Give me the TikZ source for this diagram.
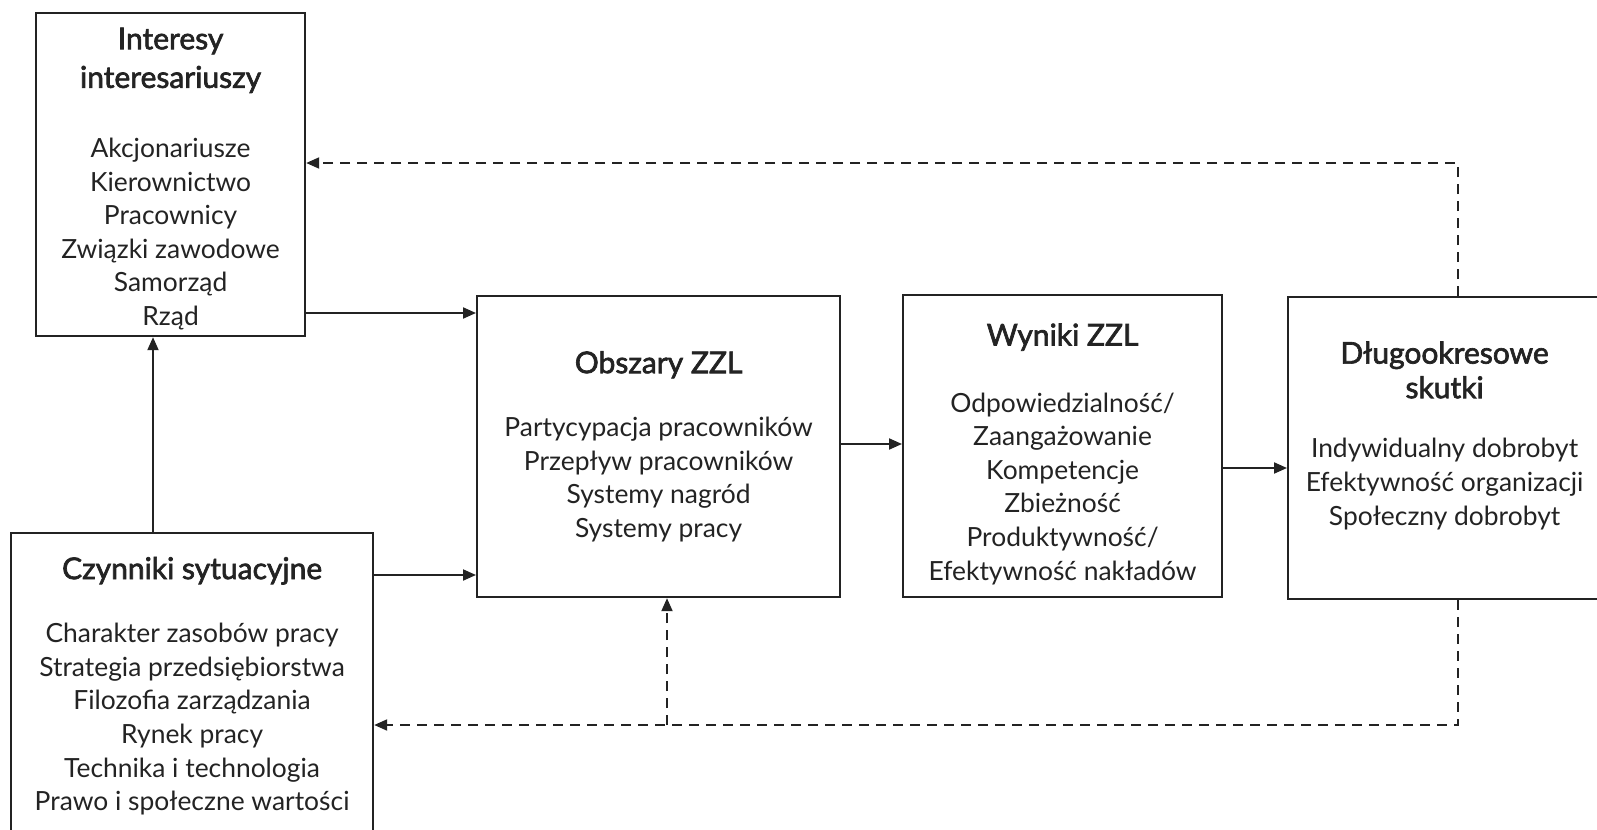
\documentclass[tikz,border=0pt]{standalone}
\usepackage{fontspec}
\setmainfont{Lato}
\newfontfamily\tytfont{Lato}[FakeBold=2.2]
\usepackage{tikz}
\usetikzlibrary{positioning,calc}
\usetikzlibrary{arrows.meta}
\definecolor{Ink}{RGB}{35,35,35}
\tikzset{
  blok/.style={draw=Ink,line width=1.1pt,align=center,inner sep=0pt,anchor=north west,
    font=\fontsize{13.2}{16.8}\selectfont,text=Ink},
  arr/.style={draw=Ink,line width=1pt,-{Triangle[length=6.5pt,width=5.5pt]}},
  darr/.style={arr,dash pattern=on 5pt off 3.5pt},
}
% title line; optional argument raises the first line to push the text down
\newcommand{\tyt}[2][0pt]{{\tytfont\fontsize{15}{18}\selectfont\rule{0pt}{#1}#2}}
\begin{document}
\begin{tikzpicture}[x=0.5pt,y=-0.5pt]
\useasboundingbox (0,0) rectangle (1597,830);
\clip (0,0) rectangle (1597,830);
\fill[white] (0,0) rectangle (1597,830);
% boxes
\node[blok,minimum width=134.5pt,minimum height=161.5pt] (inter) at (35,12)
  {\tyt[15pt]{Interesy}\\[2.5pt]\tyt{interesariuszy}\\[18pt]Akcjonariusze\\Kierownictwo\\Pracownicy\\Związki zawodowe\\Samorząd\\Rząd};
\node[blok,minimum width=181.5pt,minimum height=150.5pt] (obsz) at (476,295)
  {\tyt{Obszary ZZL}\\[15pt]Partycypacja pracowników\\Przepływ pracowników\\Systemy nagród\\Systemy pracy};
\node[blok,minimum width=159.5pt,minimum height=151pt] (wyn) at (902,294)
  {\tyt[19pt]{Wyniki ZZL}\\[16.5pt]Odpowiedzialność/\\Zaangażowanie\\Kompetencje\\Zbieżność\\Produktywność/\\Efektywność nakładów};
\node[blok,minimum width=156.5pt,minimum height=151pt] (skut) at (1287,296)
  {\tyt{Długookresowe}\\[0.5pt]\tyt{skutki}\\[13pt]Indywidualny dobrobyt\\Efektywność organizacji\\Społeczny dobrobyt\\[-7pt]\strut};
\node[blok,minimum width=181pt,minimum height=153pt] (czyn) at (10,532)
  {\tyt{Czynniki sytuacyjne}\\[15pt]Charakter zasobów pracy\\Strategia przedsiębiorstwa\\Filozofia zarządzania\\Rynek pracy\\Technika i technologia\\Prawo i społeczne wartości};
% solid links
\draw[arr] (inter.east |- 0,313) -- (obsz.west |- 0,313);
\draw[arr] (czyn.east |- 0,575) -- (obsz.west |- 0,575);
\draw[arr] (czyn.north -| 153,0) -- (inter.south -| 153,0);
\draw[arr] (obsz.east |- 0,444) -- (wyn.west |- 0,444);
\draw[arr] (wyn.east |- 0,468) -- (skut.west |- 0,468);
% feedback
\coordinate (split) at (667,725);
\draw[darr] (skut.north -| 1458,0) |- (inter.east |- 0,163);
\draw[darr] (skut.south -| 1458,0) |- (czyn.east |- split);
\draw[darr] (split) -- (obsz.south -| split);
\end{tikzpicture}
\end{document}
